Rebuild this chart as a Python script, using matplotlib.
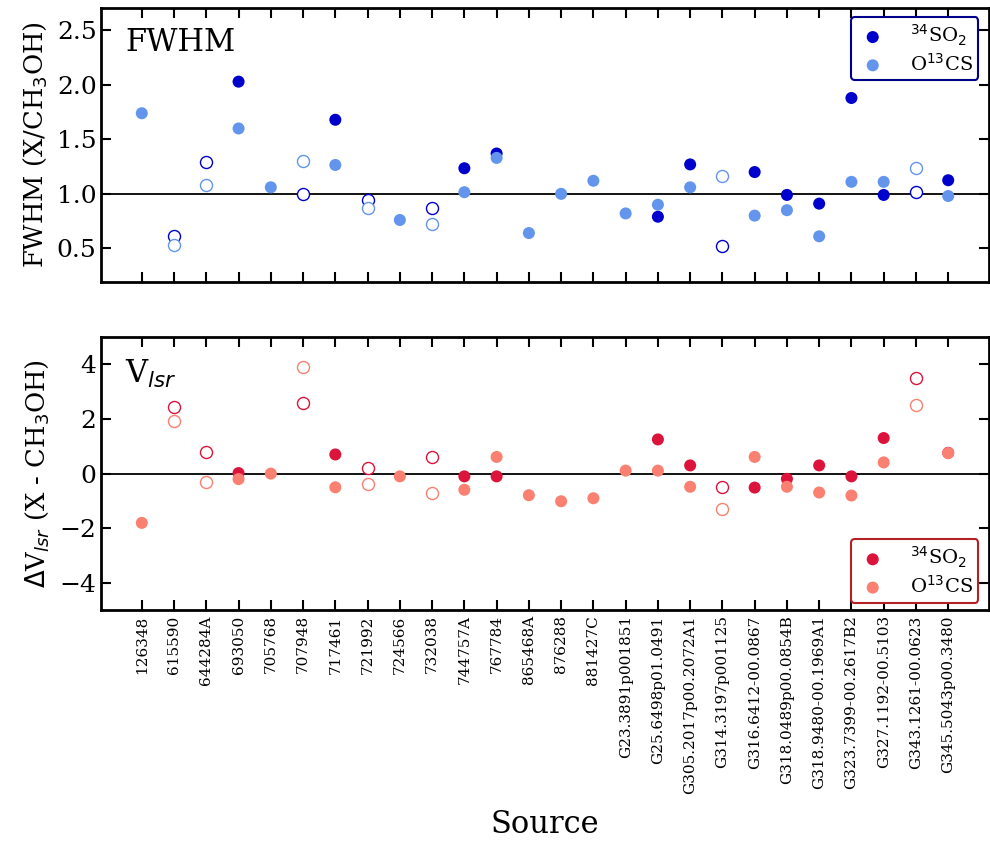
import numpy as np
import matplotlib
matplotlib.use("Agg")
import matplotlib.pyplot as plt

plt.rcParams['font.family'] = ['DejaVu Serif']

sources = ["126348", "615590", "644284A", "693050", "705768", "707948",
           "717461", "721992", "724566", "732038", "744757A", "767784",
           "865468A", "876288", "881427C", "G23.3891p001851",
           "G25.6498p01.0491", "G305.2017p00.2072A1", "G314.3197p001125",
           "G316.6412-00.0867", "G318.0489p00.0854B", "G318.9480-00.1969A1",
           "G323.7399-00.2617B2", "G327.1192-00.5103", "G343.1261-00.0623",
           "G345.5043p00.3480"]

nan = np.nan
# FWHM ratios relative to CH3OH
fwhm_so2 = [nan, 0.61, 1.29, 2.03, nan, 1.00, 1.68, 0.94, nan, 0.87, 1.235,
            1.37, nan, nan, nan, nan, 0.79, 1.27, 0.52, 1.20, 0.99, 0.91,
            1.88, 0.99, 1.015, 1.125]
fwhm_ocs = [1.74, 0.53, 1.085, 1.60, 1.06, 1.30, 1.265, 0.87, 0.76, 0.72,
            1.015, 1.33, 0.64, 1.00, 1.12, 0.82, 0.90, 1.06, 1.16, 0.80,
            0.85, 0.61, 1.11, 1.11, 1.24, 0.98]

# Velocity offsets relative to CH3OH (km/s)
dv_so2 = [nan, 2.45, 0.80, 0.02, nan, 2.59, 0.70, 0.22, nan, 0.61, -0.10,
          -0.10, nan, nan, nan, nan, 1.25, 0.30, -0.48, -0.51, -0.19, 0.30,
          -0.10, 1.30, 3.49, 0.76]
dv_ocs = [-1.80, 1.94, -0.30, -0.20, 0.00, 3.89, -0.50, -0.39, -0.10, -0.70,
          -0.59, 0.61, -0.79, -1.01, -0.90, 0.11, 0.11, -0.48, -1.28, 0.61,
          -0.48, -0.69, -0.80, 0.41, 2.50, 0.75]

# Sources with uncertain fits, shown as open symbols
uncertain = [False, True, True, False, False, True, False, True, False, True,
             False, False, False, False, False, False, False, False, True,
             False, False, False, False, False, True, False]

x = np.arange(len(sources))
unc = np.array(uncertain)

fig = plt.figure(figsize=(9.9, 8.42), dpi=100)
ax1 = fig.add_axes([0.1025, 0.665, 0.896, 0.326])
ax2 = fig.add_axes([0.1025, 0.275, 0.896, 0.325])

MS = 75


def draw(ax, so2, ocs, c_so2, c_ocs):
    so2 = np.array(so2)
    ocs = np.array(ocs)
    for vals, col, lab in ((so2, c_so2, r'$^{34}$SO$_2$'),
                           (ocs, c_ocs, r'O$^{13}$CS')):
        ax.scatter(x[~unc], vals[~unc], s=MS, color=col, edgecolors='none',
                   label=lab, zorder=3)
        ax.scatter(x[unc], vals[unc], s=MS, facecolors='white',
                   edgecolors=col, linewidths=1.0, zorder=3)


draw(ax1, fwhm_so2, fwhm_ocs, '#0000CD', '#6495ED')
draw(ax2, dv_so2, dv_ocs, '#DC143C', '#FA8072')

ax1.axhline(1.0, color='black', lw=1.3, zorder=1)
ax2.axhline(0.0, color='black', lw=1.3, zorder=1)

ax1.set_ylim(0.19, 2.71)
ax1.set_yticks([0.5, 1.0, 1.5, 2.0, 2.5])
ax2.set_ylim(-5, 5)
ax2.set_yticks([-4, -2, 0, 2, 4])

for ax in (ax1, ax2):
    ax.set_xlim(-1.25, len(sources) - 1 + 1.25)
    ax.set_xticks(x)
    ax.tick_params(direction='in', top=True, right=True, length=7,
                   width=1.5, labelsize=18)
    for sp in ax.spines.values():
        sp.set_linewidth(2)

ax1.set_xticklabels([])
ax2.set_xticklabels(sources, rotation=90, fontsize=11)

ax1.set_ylabel('FWHM (X/CH$_3$OH)', fontsize=18.5, labelpad=6)
ax2.set_ylabel(r'$\Delta$V$_{lsr}$ (X - CH$_3$OH)', fontsize=18.5, labelpad=6)
ax2.set_xlabel('Source', fontsize=22, labelpad=11)

ax1.text(0.027, 0.84, 'FWHM', transform=ax1.transAxes, fontsize=22)
ax2.text(0.027, 0.83, r'V$_{lsr}$', transform=ax2.transAxes, fontsize=22)

leg_kw = dict(fontsize=14, handlelength=1.67, handletextpad=1.07,
              borderpad=0.3, labelspacing=0.25, framealpha=1, fancybox=True,
              borderaxespad=0)
leg1 = ax1.legend(loc='upper right', bbox_to_anchor=(0.9887, 0.967), **leg_kw)
leg1.get_frame().set_edgecolor('#00008B')
leg1.get_frame().set_linewidth(1.5)

leg2 = ax2.legend(loc='lower right', bbox_to_anchor=(0.9887, 0.029), **leg_kw)
leg2.get_frame().set_edgecolor('#B22222')
leg2.get_frame().set_linewidth(1.5)

fig.savefig('out.png', dpi=100)
